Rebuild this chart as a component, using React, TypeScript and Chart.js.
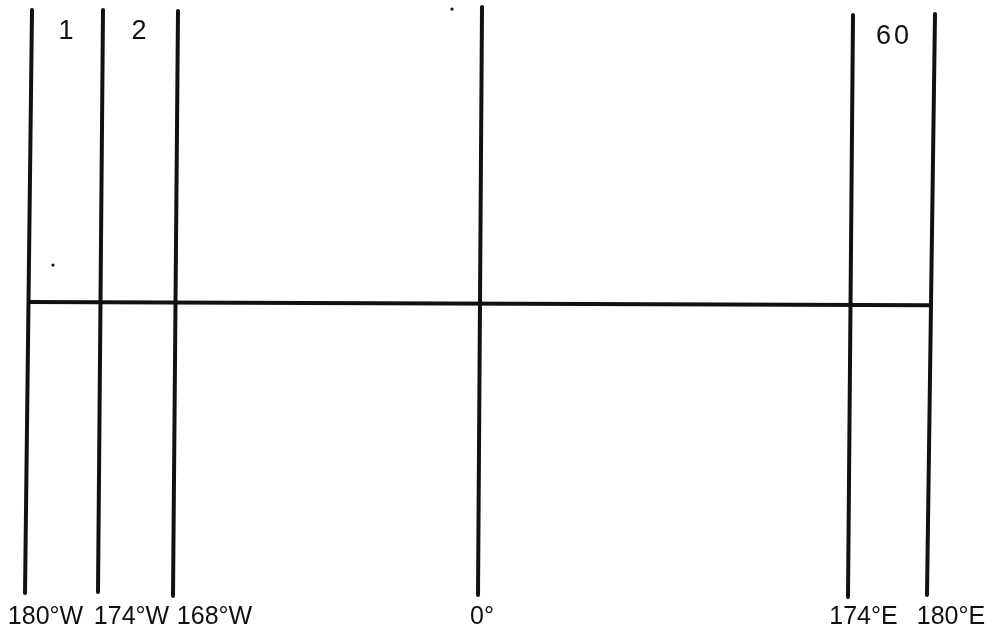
import React, { useEffect, useRef } from "react";
import { Chart, registerables } from "chart.js";

Chart.register(...registerables);

// Meridians of the (schematic, not-to-scale) UTM zone diagram
const meridianLabels = ["180°W", "174°W", "168°W", "0°", "174°E", "180°E"];
const meridianLon = [-180, -174, -168, 0, 174, 180];
// schematic horizontal position of each meridian (top / bottom end, scan is slightly skewed)
const meridianPosTop = [2, 73, 148, 452, 823, 905];
const meridianPosBottom = [-5, 68, 143, 448, 818, 897];
// vertical extent of each meridian (y: +1 top, -1 bottom, equator at 0)
const meridianTop = [1, 1, 0.997, 1.01, 0.983, 0.986];
const meridianBottom = [-0.993, -0.99, -1.003, -1, -1.007, -1];

// Equator
const equatorX = [0, 902];
const equatorY = [0.002, -0.009];

// Zone numbers, placed between the meridians that bound them
const zoneLabels = ["1", "2", "60"];
const zoneLeftMeridian = [0, 1, 4];
const zoneRightMeridian = [1, 2, 5];
const zoneLabelY = [0.925, 0.925, 0.908];

// scan specks
const speckX = [23, 422];
const speckY = [0.128, 1.003];

const labelPlugin = {
  id: "utmLabels",
  afterDatasetsDraw(chart: any, _args: any, opts: any) {
    const { ctx, chartArea } = chart;
    const xs = chart.scales.x;
    const ys = chart.scales.y;
    ctx.save();
    ctx.fillStyle = "#111";
    ctx.textBaseline = "middle";
    ctx.textAlign = "center";
    // bottom meridian labels
    ctx.font = "25px 'Liberation Sans', Arial, sans-serif";
    meridianLabels.forEach((lab, i) => {
      const mid = (meridianPosTop[i] + meridianPosBottom[i]) / 2;
      const px = xs.getPixelForValue(mid) + opts.labelOffsets[i];
      ctx.fillText(lab, px, chartArea.bottom + 22);
    });
    // zone numbers
    ctx.font = "27px 'Liberation Sans', Arial, sans-serif";
    (ctx as any).letterSpacing = "3px";
    zoneLabels.forEach((lab, i) => {
      const y = ys.getPixelForValue(zoneLabelY[i]);
      const l = meridianPosTop[zoneLeftMeridian[i]];
      const r = meridianPosTop[zoneRightMeridian[i]];
      const px = xs.getPixelForValue((l + r) / 2);
      ctx.fillText(lab, px + (lab.length > 1 ? 0 : 0), y);
    });
    ctx.restore();
  },
};

export default function App() {
  const ref = useRef<HTMLCanvasElement>(null);
  useEffect(() => {
    document.body.style.margin = "0";
    if (!ref.current) return;
    const datasets: any[] = meridianLon.map((lon, i) => ({
      label: meridianLabels[i],
      data: [
        { x: meridianPosTop[i], y: meridianTop[i] },
        { x: meridianPosBottom[i], y: meridianBottom[i] },
      ],
      showLine: true,
      borderColor: "#111",
      borderWidth: 4,
      borderCapStyle: "round",
      pointRadius: 0,
      clip: false,
    }));
    datasets.push({
      label: "Equator",
      data: equatorX.map((x, i) => ({ x, y: equatorY[i] })),
      showLine: true,
      borderColor: "#111",
      borderWidth: 4,
      pointRadius: 0,
      clip: false,
    });
    datasets.push({
      label: "specks",
      data: speckX.map((x, i) => ({ x, y: speckY[i] })),
      showLine: false,
      pointRadius: 1.6,
      pointBackgroundColor: "#111",
      pointBorderWidth: 0,
      clip: false,
    });
    const chart = new Chart(ref.current, {
      type: "scatter",
      data: { datasets },
      options: {
        animation: false,
        responsive: false,
        layout: { autoPadding: false, padding: { left: 0, right: 0, top: 10, bottom: 38 } },
        scales: {
          x: { type: "linear", min: -30, max: 974, display: false },
          y: { type: "linear", min: -1, max: 1, display: false },
        },
        plugins: {
          legend: { display: false },
          tooltip: { enabled: false },
          utmLabels: { labelOffsets: [17, 31, 39, 2, 13, 20] },
        } as any,
      },
      plugins: [labelPlugin],
    });
    return () => chart.destroy();
  }, []);
  return (
    <div style={{ width: 1004, height: 633, background: "#fff" }}>
      <canvas ref={ref} width={1004} height={633} />
    </div>
  );
}
